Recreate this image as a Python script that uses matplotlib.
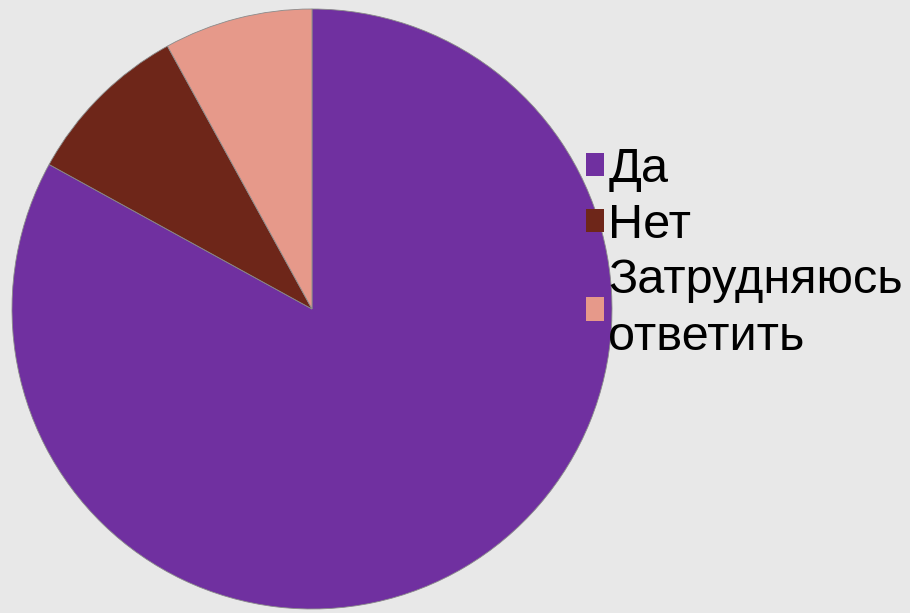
import matplotlib
matplotlib.use('Agg')
import matplotlib.pyplot as plt
from matplotlib.patches import Patch

labels = ['Да', 'Нет', 'Затрудняюсь\nответить']
values = [83, 9, 8]
colors = ['#7030A0', '#6E2619', '#E6998A']

plt.rcParams['font.family'] = ['Liberation Sans', 'DejaVu Sans']

fig = plt.figure(figsize=(9.10, 6.13), dpi=100)
fig.patch.set_facecolor('#e8e8e8')

# pie area: centre ~ (312, 309) px, radius ~ 300 px
ax = fig.add_axes([12 / 910, 4 / 613, 600 / 910, 600 / 613])
ax.set_facecolor('none')
ax.pie(values, colors=colors, startangle=90, counterclock=False,
       radius=1.0, wedgeprops=dict(edgecolor='#8a8a8a', linewidth=0.6))
ax.set_xlim(-1.0, 1.0)
ax.set_ylim(-1.0, 1.0)
ax.set_aspect('equal')
ax.axis('off')

handles = [Patch(facecolor=c, edgecolor='none') for c in colors]
leg = fig.legend(handles, labels, loc='upper left',
                 bbox_to_anchor=(586 / 910, 1 - 147 / 613),
                 frameon=False, fontsize=35,
                 handlelength=0.36, handleheight=0.36, handletextpad=0.1,
                 labelspacing=0.22, borderpad=0, borderaxespad=0)
for t in leg.get_texts():
    t.set_linespacing(1.32)

fig.savefig('out.png', dpi=100, facecolor=fig.get_facecolor())
